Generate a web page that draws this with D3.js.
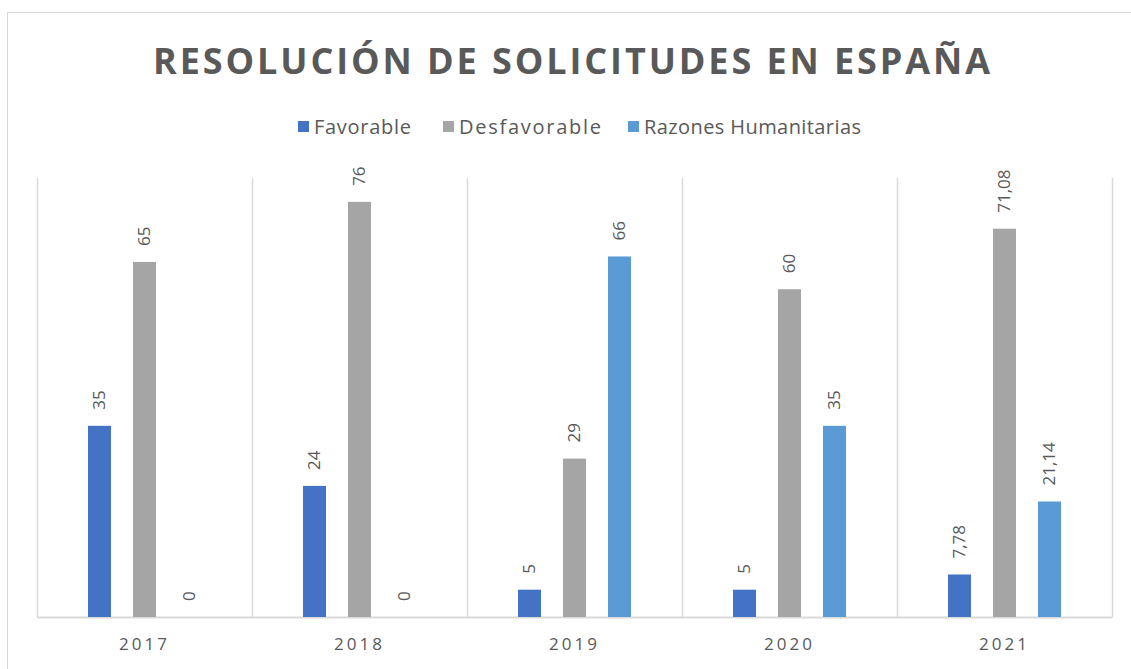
<!DOCTYPE html>
<html>
<head>
<meta charset="utf-8">
<script src="https://cdn.jsdelivr.net/npm/d3@7"></script>
<style>
  body { margin: 0; background: #fff; }
  svg text { font-family: "Open Sans", "Noto Sans", sans-serif; fill: #595959; }
</style>
</head>
<body>
<div id="chartContainer"></div>
<script>

var years = ['2017', '2018', '2019', '2020', '2021']
var seriesNames = ['Favorable', 'Desfavorable', 'Razones Humanitarias']
var favorable = [35, 24, 5, 5, 7.78]
var desfavorable = [65, 76, 29, 60, 71.08]
var humanitarias = [0, 0, 66, 35, 21.14]
var colors = ['#4472C4', '#A5A5A5', '#5B9BD5']

var width = 1131, height = 669
var margin = { top: 180, left: 37, right: 19, bottom: 52 }

var data = years.map(function(y, i) {
    return { year: y, values: [favorable[i], desfavorable[i], humanitarias[i]] }
})

var fmt = function(v) { return String(v).replace('.', ',') }

var svg = d3.select('#chartContainer').append('svg')
    .attr('width', width)
    .attr('height', height)

// chart frame (cut at right/bottom like the screenshot)
svg.append('rect')
    .attr('x', 7.5).attr('y', 12.5)
    .attr('width', width + 20).attr('height', height + 20)
    .style('fill', 'none').style('stroke', '#d9d9d9')

svg.append('text')
    .attr('x', 573).attr('y', 74)
    .attr('text-anchor', 'middle')
    .attr('textLength', 840)
    .style('font-size', '36px')
    .style('font-weight', 'bold')
    .style('letter-spacing', '3px')
    .text('RESOLUCIÓN DE SOLICITUDES EN ESPAÑA')

// legend
var legendPos = [298, 443, 628]
var legendW = [97, 142, 217]
var legend = svg.append('g').selectAll('g')
    .data(seriesNames)
    .enter().append('g')
    .attr('transform', function(d, i) { return 'translate(' + legendPos[i] + ',121)' })
legend.append('rect')
    .attr('width', 11).attr('height', 11)
    .style('fill', function(d, i) { return colors[i] })
legend.append('text')
    .attr('x', 16).attr('y', 13)
    .attr('textLength', function(d, i) { return legendW[i] })
    .style('font-size', '20px')
    .text(function(d) { return d })

var x0 = d3.scaleBand()
    .domain(years)
    .range([margin.left, width - margin.right])

var x1 = d3.scalePoint()
    .domain([0, 1, 2])
    .range([-45, 45])

var yScale = d3.scaleLinear()
    .domain([0, 80])
    .range([height - margin.bottom, margin.top])

// category separators
svg.append('g').selectAll('line')
    .data(d3.range(years.length + 1))
    .enter().append('line')
    .attr('x1', function(d) { return margin.left + d * x0.step() + 0.5 })
    .attr('x2', function(d) { return margin.left + d * x0.step() + 0.5 })
    .attr('y1', margin.top - 2)
    .attr('y2', yScale(0))
    .style('stroke', '#d9d9d9').style('stroke-width', 1.5)

var xAxis = svg.append('g')
    .attr('class', 'xAxis')
    .attr('transform', 'translate(0,' + yScale(0) + ')')
    .call(d3.axisBottom(x0).tickSize(0).tickPadding(21))
xAxis.select('.domain').style('stroke', '#d9d9d9').style('stroke-width', 2)
xAxis.selectAll('text')
    .style('font-size', '17px')
    .style('letter-spacing', '3px')
    .style('fill', '#595959')

var barW = 23
var groups = svg.append('g').selectAll('g')
    .data(data)
    .enter().append('g')
    .attr('transform', function(d) { return 'translate(' + (x0(d.year) + x0.bandwidth() / 2) + ',0)' })

groups.selectAll('rect')
    .data(function(d) { return d.values })
    .enter().append('rect')
    .attr('x', function(d, i) { return x1(i) - barW / 2 })
    .attr('y', function(d) { return yScale(d) })
    .attr('width', barW)
    .attr('height', function(d) { return yScale(0) - yScale(d) })
    .style('fill', function(d, i) { return colors[i] })

groups.selectAll('text')
    .data(function(d) { return d.values })
    .enter().append('text')
    .attr('transform', function(d, i) {
        return 'translate(' + x1(i) + ',' + (yScale(d) - 16) + ') rotate(-90)'
    })
    .attr('dy', '0.35em')
    .style('font-size', '17px')
    .text(function(d) { return fmt(d) })

</script>
</body>
</html>
